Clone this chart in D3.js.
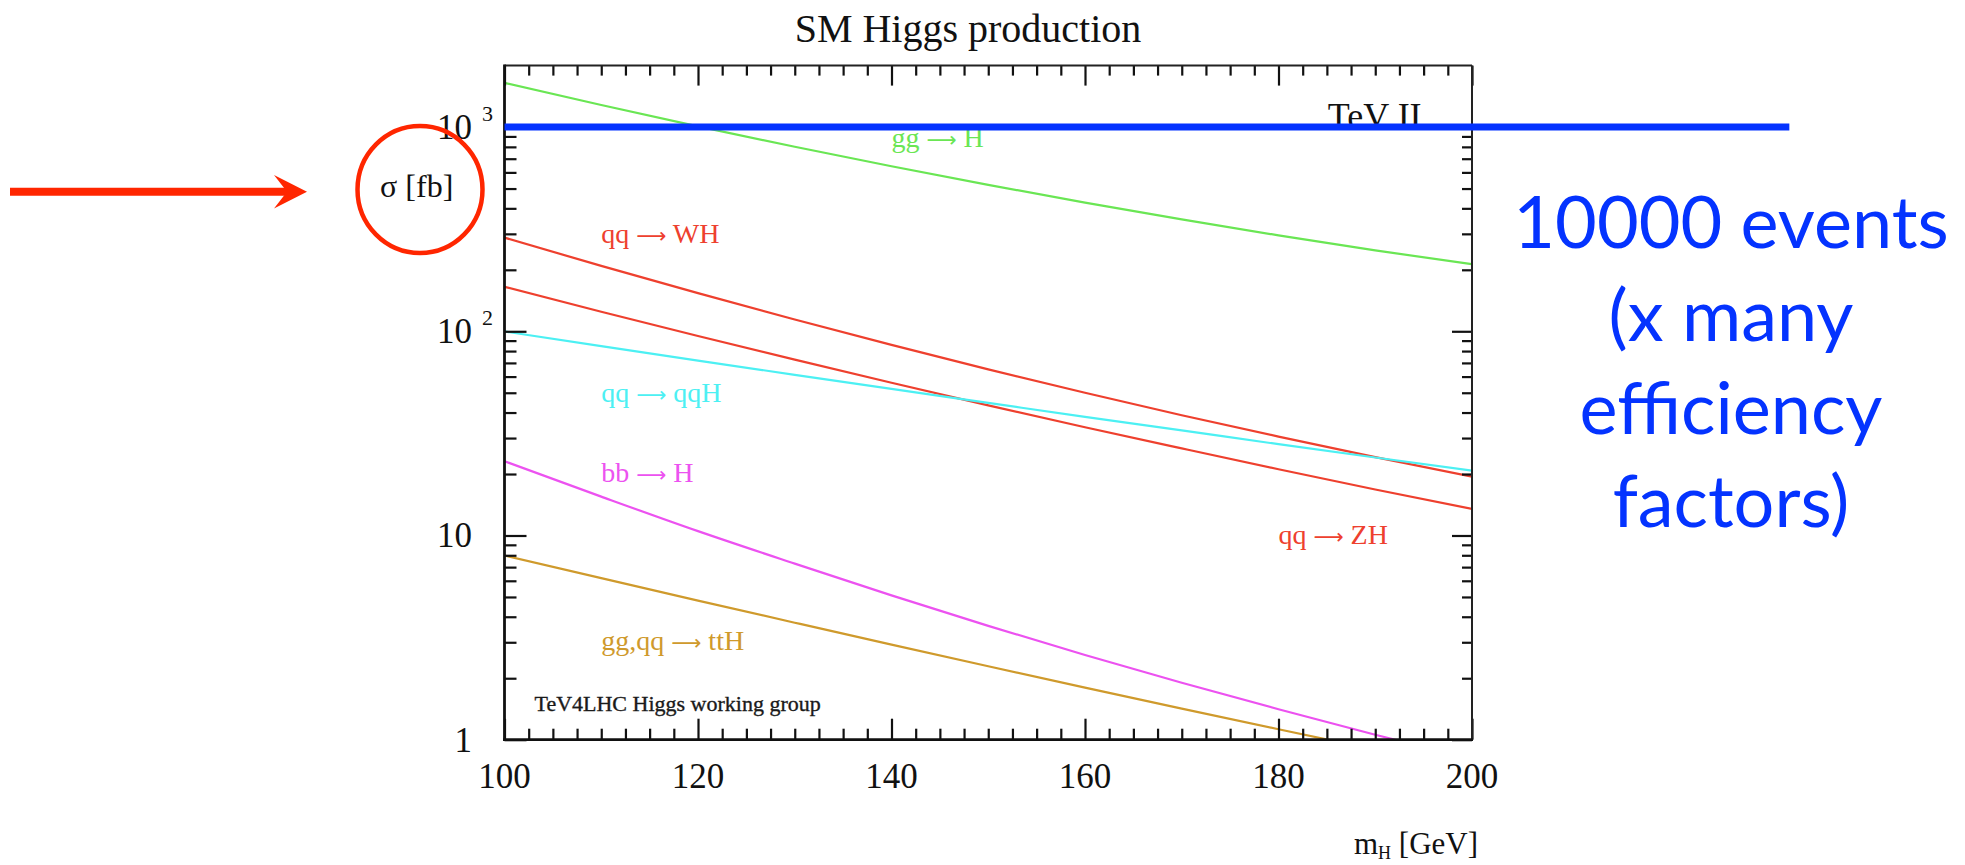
<!DOCTYPE html>
<html><head><meta charset="utf-8">
<script src="https://cdn.jsdelivr.net/npm/d3@7"></script>
<style>html,body{margin:0;padding:0;background:#fff;}svg{display:block;}</style>
</head><body>
<svg id="chart" width="1965" height="865"></svg>
<script>
// ---------- data ----------
const masses = [100,110,120,130,140,150,160,170,180,190,200];
const sigmaGGH = [1647,1282,1008,801,643,521,427,353,295,249,213];
const sigmaWH  = [287.5,209,153.7,114.2,85.8,65.1,50.0,38.8,30.5,24.2,19.4];
const sigmaZH  = [165.1,124.7,94.8,72.6,56.0,43.4,33.9,26.7,21.1,16.8,13.5];
const sigmaQQH = [99.8,84.6,71.9,61.2,52.2,44.6,38.1,32.7,28.0,24.1,20.8];
const sigmaBBH = [23.1,15.5,10.5,7.28,5.09,3.61,2.60,1.90,1.41,1.057,0.805];
const sigmaTTH = [7.98,6.18,4.80,3.74,2.92,2.29,1.80,1.42,1.125,0.894,0.712];

const processInitial = ["gg","qq","qq","qq","bb","gg,qq"];
const processFinal   = ["H","WH","ZH","qqH","H","ttH"];
const processColors = ["#6ae654","#ee402e","#ee402e","#4cf0f3","#ec52f0","#cf9a2c"];
const labelMass  = [140,110,180,110,110,110];
const labelSigma = [796,270,9.1,45,18.3,2.75];

const xMajorTicks = [100,120,140,160,180,200];
const yMajorTicks = [1,10,100,1000];
const yTickBase = ["1","10","10","10"];
const yTickExp  = ["","","2","3"];

const eventsSigma = 1000;         // 10000 events line
const eventsMassRange = [100,232.8];
const noteLines = ["10000 events","(x many","efficiency","factors)"];

(function(){
// ---------- layout ----------
const svg = d3.select("#chart");
const pL = 504.5, pR = 1472, pT = 65.6, pB = 739.7;
const x = d3.scaleLinear().domain([100,200]).range([pL,pR]);
const y = d3.scaleLog().domain([1,2000]).range([pB,pT]);

const serif = "'Liberation Serif','Times New Roman',Times,serif";

svg.append("defs").append("clipPath").attr("id","plotclip")
  .append("rect").attr("x",pL).attr("y",pT).attr("width",pR-pL).attr("height",pB-pT);

// title
svg.append("text").attr("x",968).attr("y",41.5).attr("text-anchor","middle")
  .attr("font-family",serif).attr("font-size",40).attr("fill","#111").text("SM Higgs production");

// curves
const series = [sigmaGGH,sigmaWH,sigmaZH,sigmaQQH,sigmaBBH,sigmaTTH];
const line = d3.line().x(d=>x(d[0])).y(d=>y(d[1])).curve(d3.curveMonotoneX);
const gCurves = svg.append("g").attr("clip-path","url(#plotclip)");
series.forEach((s,i)=>{
  gCurves.append("path").datum(masses.map((m,j)=>[m,s[j]]))
    .attr("d",line).attr("fill","none").attr("stroke",processColors[i]).attr("stroke-width",2.2);
});

// curve labels
processInitial.forEach((n,i)=>{
  const t = svg.append("text").attr("x",x(labelMass[i])).attr("y",y(labelSigma[i]))
    .attr("font-family",serif).attr("font-size",28).attr("fill",processColors[i]);
  t.append("tspan").text(n+" ");
  t.append("tspan").attr("font-family","'DejaVu Sans',sans-serif").attr("font-size",21).text("⟶");
  t.append("tspan").text(" "+processFinal[i]);
});
svg.append("text").attr("x",x(103.1)).attr("y",y(1.387))
  .attr("font-family",serif).attr("font-size",22).attr("fill","#1a1a1a")
  .attr("stroke","#1a1a1a").attr("stroke-width",0.35).text("TeV4LHC Higgs working group");
svg.append("text").attr("x",x(185.1)).attr("y",y(1000)+0.5)
  .attr("font-family",serif).attr("font-size",36).attr("fill","#111").text("TeV II");

// ---------- axes ----------
const xMinor = d3.range(100,200.01,2.5).filter(v=>v%20!==0);
const yMinor = [];
[1,10,100].forEach(b=>{for(let k=2;k<=9;k++) yMinor.push(b*k);});

function noDomain(g){g.select(".domain").remove();g.selectAll("text").remove();}
const tickStyle = g=>g.selectAll("line").attr("stroke","#111").attr("stroke-width",2.2);

svg.append("g").attr("transform",`translate(0,${pB})`)
  .call(d3.axisBottom(x).tickValues(xMajorTicks).tickSize(-21)).call(noDomain).call(tickStyle);
svg.append("g").attr("transform",`translate(0,${pB})`)
  .call(d3.axisBottom(x).tickValues(xMinor).tickSize(-11)).call(noDomain).call(tickStyle);
svg.append("g").attr("transform",`translate(0,${pT})`)
  .call(d3.axisTop(x).tickValues(xMajorTicks).tickSize(-20)).call(noDomain).call(tickStyle);
svg.append("g").attr("transform",`translate(0,${pT})`)
  .call(d3.axisTop(x).tickValues(xMinor).tickSize(-10)).call(noDomain).call(tickStyle);
svg.append("g").attr("transform",`translate(${pL},0)`)
  .call(d3.axisLeft(y).tickValues(yMajorTicks).tickSize(-22)).call(noDomain).call(tickStyle);
svg.append("g").attr("transform",`translate(${pL},0)`)
  .call(d3.axisLeft(y).tickValues(yMinor).tickSize(-12)).call(noDomain).call(tickStyle);
svg.append("g").attr("transform",`translate(${pR},0)`)
  .call(d3.axisRight(y).tickValues(yMajorTicks).tickSize(-20)).call(noDomain).call(tickStyle);
svg.append("g").attr("transform",`translate(${pR},0)`)
  .call(d3.axisRight(y).tickValues(yMinor).tickSize(-10)).call(noDomain).call(tickStyle);

// frame
svg.append("line").attr("x1",pL).attr("x2",pR).attr("y1",pT).attr("y2",pT).attr("stroke","#222").attr("stroke-width",2);
svg.append("line").attr("x1",pR).attr("x2",pR).attr("y1",pT).attr("y2",pB).attr("stroke","#222").attr("stroke-width",2);
svg.append("line").attr("x1",pL).attr("x2",pL).attr("y1",pT-1).attr("y2",pB+1.4).attr("stroke","#111").attr("stroke-width",2.8);
svg.append("line").attr("x1",pL-1.4).attr("x2",pR+1).attr("y1",pB).attr("y2",pB).attr("stroke","#111").attr("stroke-width",2.8);

// tick labels
xMajorTicks.forEach(v=>{
  svg.append("text").attr("x",x(v)).attr("y",pB+48.6).attr("text-anchor","middle")
    .attr("font-family",serif).attr("font-size",35).attr("fill","#111").text(v);
});
yMajorTicks.forEach((v,i)=>{
  svg.append("text").attr("x",472).attr("y",y(v)+12).attr("text-anchor","end")
    .attr("font-family",serif).attr("font-size",35).attr("fill","#111").text(yTickBase[i]);
  if(yTickExp[i]) svg.append("text").attr("x",482).attr("y",y(v)-6)
    .attr("font-family",serif).attr("font-size",22).attr("fill","#111").text(yTickExp[i]);
});

// axis titles
svg.append("text").attr("x",416.7).attr("y",197).attr("text-anchor","middle")
  .attr("font-family",serif).attr("font-size",32).attr("fill","#111").text("σ [fb]");
const xt = svg.append("text").attr("x",1478).attr("y",854).attr("text-anchor","end")
  .attr("font-family",serif).attr("font-size",31).attr("fill","#111");
xt.append("tspan").text("m");
xt.append("tspan").attr("font-size",18).attr("dy",5).text("H");
xt.append("tspan").attr("dy",-5).text(" [GeV]");

// ---------- annotations ----------
svg.append("line").attr("x1",x(eventsMassRange[0])).attr("x2",x(eventsMassRange[1]))
  .attr("y1",y(eventsSigma)).attr("y2",y(eventsSigma))
  .attr("stroke","#0433ff").attr("stroke-width",7);

const note = svg.append("g").attr("font-family","Lato,'Open Sans',sans-serif")
  .attr("font-size",72).attr("fill","#0433ff").attr("text-anchor","middle");
noteLines.forEach((t,i)=>{
  note.append("text").attr("x",1731).attr("y",248.3+i*92.8).text(t);
});

const red = "#ff2600";
svg.append("line").attr("x1",10).attr("x2",290).attr("y1",191.7).attr("y2",191.7)
  .attr("stroke",red).attr("stroke-width",8);
svg.append("path").attr("d","M307,191.7 L274,175 L287,191.7 L274,208.4 Z").attr("fill",red);
svg.append("ellipse").attr("cx",420).attr("cy",189.5).attr("rx",62.5).attr("ry",63.5)
  .attr("fill","none").attr("stroke",red).attr("stroke-width",4.5);
})();
</script>
</body></html>
